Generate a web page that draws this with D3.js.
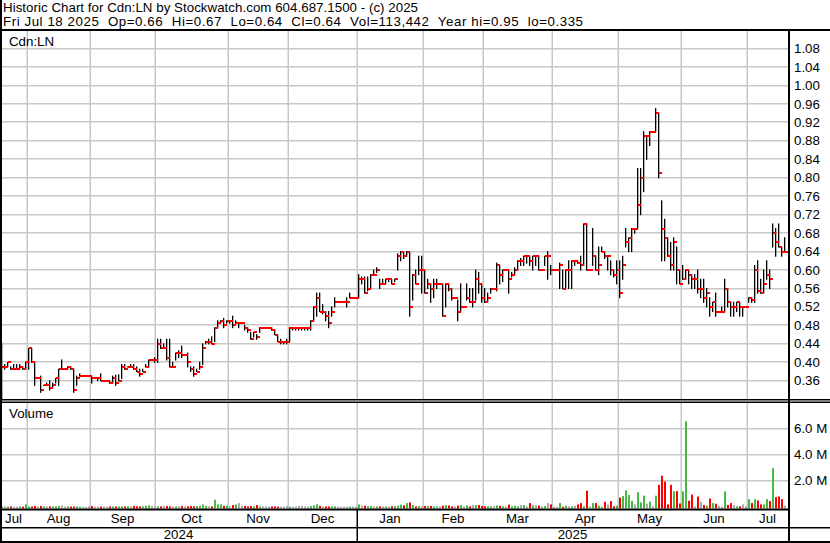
<!DOCTYPE html>
<html><head><meta charset="utf-8">
<script src="https://cdn.jsdelivr.net/npm/d3@7"></script>
<style>
html,body{margin:0;padding:0;background:#fff;}
svg{display:block;font-family:"Liberation Sans",Arial,sans-serif;}
</style></head><body>
<svg id="chart" width="830" height="543"></svg>
<script>
const titleLine1 = "Historic Chart for Cdn:LN by Stockwatch.com 604.687.1500 - (c) 2025";
const titleLine2 = "Fri Jul 18 2025  Op=0.66  Hi=0.67  Lo=0.64  Cl=0.64  Vol=113,442  Year hi=0.95  lo=0.335";
const symbolLabel = "Cdn:LN";
const volumeLabel = "Volume";

const highs = [
0.44,0.395,0.40,0.39,0.395,0.395,0.395,0.39,0.40,0.43,
0.43,0.40,0.365,0.37,0.35,0.355,0.36,0.355,0.365,0.385,
0.405,0.385,0.39,0.39,0.385,0.37,0.375,0.37,0.37,0.37,
0.37,0.365,0.365,0.375,0.36,0.36,0.36,0.37,0.372,0.373,
0.395,0.395,0.39,0.395,0.395,0.39,0.385,0.385,0.395,0.405,
0.405,0.41,0.45,0.45,0.44,0.45,0.45,0.40,0.42,0.425,
0.435,0.415,0.42,0.39,0.39,0.385,0.40,0.44,0.445,0.45,
0.455,0.475,0.49,0.49,0.495,0.49,0.49,0.50,0.49,0.485,
0.485,0.48,0.475,0.465,0.465,0.46,0.475,0.475,0.475,0.475,
0.475,0.47,0.46,0.45,0.445,0.45,0.475,0.475,0.475,0.475,
0.475,0.475,0.475,0.49,0.52,0.55,0.55,0.525,0.51,0.51,
0.52,0.54,0.53,0.53,0.53,0.54,0.55,0.54,0.54,0.59,
0.585,0.585,0.585,0.59,0.60,0.605,0.58,0.58,0.58,0.58,
0.58,0.58,0.635,0.64,0.64,0.64,0.64,0.59,0.60,0.63,
0.63,0.60,0.58,0.57,0.58,0.58,0.57,0.57,0.57,0.57,
0.56,0.54,0.535,0.57,0.52,0.57,0.56,0.56,0.60,0.595,
0.57,0.56,0.55,0.56,0.56,0.615,0.61,0.60,0.60,0.60,
0.595,0.605,0.62,0.625,0.63,0.63,0.63,0.63,0.63,0.63,
0.60,0.63,0.64,0.61,0.60,0.60,0.615,0.60,0.60,0.62,
0.62,0.62,0.62,0.63,0.70,0.70,0.60,0.69,0.63,0.65,
0.65,0.64,0.63,0.62,0.60,0.62,0.62,0.63,0.69,0.67,
0.69,0.69,0.82,0.82,0.90,0.89,0.90,0.90,0.95,0.94,
0.75,0.71,0.67,0.66,0.67,0.65,0.60,0.61,0.60,0.60,
0.59,0.59,0.60,0.58,0.58,0.56,0.54,0.53,0.55,0.51,
0.52,0.58,0.56,0.53,0.53,0.53,0.53,0.52,0.52,0.54,
0.54,0.61,0.62,0.58,0.60,0.62,0.60,0.70,0.69,0.70,
0.65,0.67];
const lows = [
0.32,0.385,0.39,0.385,0.385,0.385,0.385,0.385,0.385,0.385,
0.40,0.35,0.365,0.335,0.35,0.35,0.34,0.345,0.355,0.35,
0.385,0.385,0.385,0.385,0.335,0.35,0.37,0.37,0.37,0.37,
0.355,0.365,0.36,0.36,0.36,0.36,0.355,0.355,0.35,0.36,
0.365,0.385,0.39,0.39,0.385,0.38,0.37,0.38,0.39,0.39,
0.405,0.40,0.40,0.43,0.43,0.405,0.39,0.39,0.405,0.41,
0.41,0.415,0.39,0.38,0.37,0.38,0.385,0.395,0.44,0.44,
0.44,0.445,0.475,0.485,0.475,0.485,0.485,0.475,0.485,0.475,
0.485,0.47,0.465,0.45,0.455,0.45,0.465,0.475,0.475,0.475,
0.47,0.46,0.445,0.44,0.44,0.44,0.445,0.47,0.47,0.47,
0.47,0.47,0.47,0.47,0.49,0.50,0.51,0.505,0.49,0.475,
0.50,0.52,0.53,0.53,0.53,0.52,0.54,0.54,0.54,0.54,
0.57,0.55,0.555,0.56,0.59,0.595,0.56,0.57,0.57,0.575,
0.57,0.575,0.60,0.62,0.625,0.63,0.50,0.535,0.57,0.59,
0.55,0.55,0.56,0.53,0.54,0.56,0.57,0.50,0.52,0.555,
0.535,0.54,0.49,0.51,0.52,0.535,0.53,0.52,0.535,0.55,
0.53,0.53,0.53,0.55,0.56,0.555,0.57,0.575,0.60,0.55,
0.585,0.59,0.60,0.61,0.61,0.615,0.61,0.60,0.61,0.60,
0.60,0.61,0.58,0.59,0.60,0.60,0.56,0.56,0.56,0.56,
0.56,0.61,0.615,0.60,0.61,0.60,0.60,0.61,0.60,0.59,
0.64,0.625,0.60,0.59,0.585,0.57,0.54,0.58,0.65,0.64,
0.64,0.68,0.69,0.72,0.77,0.84,0.87,0.90,0.90,0.80,
0.62,0.62,0.63,0.60,0.60,0.57,0.57,0.58,0.58,0.57,
0.56,0.56,0.55,0.54,0.53,0.52,0.50,0.51,0.50,0.51,
0.51,0.51,0.52,0.50,0.50,0.51,0.50,0.50,0.52,0.53,
0.53,0.53,0.55,0.55,0.55,0.58,0.56,0.65,0.63,0.65,
0.63,0.64];
const closes = [
0.39,0.39,0.40,0.385,0.385,0.385,0.39,0.385,0.40,0.43,
0.40,0.365,0.365,0.34,0.35,0.35,0.345,0.35,0.365,0.385,
0.385,0.385,0.39,0.385,0.34,0.365,0.37,0.37,0.37,0.37,
0.365,0.365,0.365,0.36,0.36,0.36,0.355,0.365,0.355,0.36,
0.39,0.385,0.39,0.39,0.385,0.38,0.375,0.38,0.39,0.405,
0.405,0.405,0.44,0.43,0.43,0.41,0.39,0.39,0.42,0.42,
0.415,0.415,0.40,0.385,0.375,0.38,0.39,0.43,0.445,0.445,
0.44,0.475,0.485,0.49,0.48,0.49,0.49,0.48,0.485,0.485,
0.485,0.475,0.47,0.45,0.465,0.455,0.475,0.475,0.475,0.475,
0.47,0.46,0.445,0.445,0.445,0.445,0.475,0.475,0.475,0.475,
0.475,0.475,0.475,0.49,0.52,0.54,0.51,0.51,0.50,0.485,
0.51,0.53,0.53,0.53,0.53,0.53,0.54,0.54,0.54,0.58,
0.58,0.55,0.56,0.59,0.59,0.60,0.57,0.57,0.58,0.58,
0.57,0.58,0.63,0.64,0.63,0.64,0.52,0.59,0.57,0.60,
0.60,0.55,0.57,0.56,0.57,0.57,0.57,0.50,0.57,0.56,
0.54,0.54,0.51,0.52,0.52,0.54,0.53,0.53,0.58,0.57,
0.54,0.53,0.54,0.56,0.56,0.61,0.59,0.60,0.60,0.58,
0.59,0.60,0.62,0.62,0.63,0.63,0.62,0.63,0.63,0.60,
0.60,0.63,0.63,0.60,0.60,0.60,0.61,0.56,0.60,0.60,
0.62,0.62,0.615,0.61,0.70,0.60,0.60,0.63,0.60,0.61,
0.64,0.63,0.63,0.60,0.59,0.60,0.55,0.61,0.66,0.67,
0.69,0.69,0.74,0.80,0.89,0.89,0.90,0.90,0.94,0.81,
0.69,0.67,0.63,0.61,0.66,0.60,0.57,0.58,0.60,0.59,
0.58,0.58,0.56,0.56,0.54,0.55,0.52,0.53,0.51,0.51,
0.51,0.56,0.53,0.52,0.52,0.53,0.52,0.52,0.52,0.54,
0.535,0.60,0.555,0.55,0.57,0.59,0.58,0.68,0.66,0.65,
0.64,0.64];
const volumes = [ // millions of shares
0.05,0.03,0.03,0.04,0.03,0.03,0.04,0.03,0.20,0.04,
0.03,0.08,0.03,0.08,0.04,0.04,0.04,0.04,0.05,0.08,
0.12,0.04,0.04,0.03,0.03,0.04,0.03,0.03,0.03,0.04,
0.08,0.02,0.03,0.03,0.04,0.04,0.04,0.04,0.04,0.04,
0.05,0.04,0.05,0.04,0.08,0.05,0.04,0.04,0.08,0.12,
0.08,0.04,0.05,0.04,0.05,0.08,0.04,0.04,0.04,0.05,
0.07,0.04,0.05,0.07,0.05,0.08,0.10,0.20,0.08,0.04,
0.04,0.56,0.20,0.20,0.08,0.10,0.04,0.15,0.20,0.30,
0.10,0.08,0.04,0.07,0.05,0.15,0.04,0.04,0.04,0.04,
0.04,0.04,0.03,0.03,0.04,0.08,0.03,0.03,0.04,0.08,
0.08,0.04,0.04,0.07,0.12,0.20,0.07,0.04,0.04,0.04,
0.05,0.05,0.04,0.03,0.03,0.03,0.04,0.04,0.04,0.20,
0.10,0.10,0.05,0.08,0.05,0.05,0.05,0.04,0.04,0.04,
0.05,0.07,0.10,0.18,0.12,0.30,0.35,0.15,0.04,0.07,
0.04,0.07,0.07,0.08,0.04,0.08,0.04,0.10,0.15,0.12,
0.04,0.04,0.10,0.15,0.04,0.12,0.04,0.15,0.15,0.15,
0.08,0.05,0.05,0.05,0.08,0.12,0.08,0.04,0.04,0.18,
0.05,0.10,0.05,0.15,0.15,0.05,0.30,0.12,0.15,0.12,
0.05,0.08,0.30,0.20,0.02,0.02,0.30,0.02,0.10,0.05,
0.05,0.10,0.20,0.30,0.05,1.25,0.05,0.30,0.30,0.10,
0.02,0.40,0.20,0.45,0.05,0.10,0.72,0.85,1.28,0.92,
0.46,0.20,1.13,0.36,0.87,0.26,0.41,0.05,0.87,1.70,
2.40,1.95,0.20,1.70,1.20,1.22,0.27,1.20,6.56,0.48,
0.95,0.05,0.80,0.40,0.15,0.10,0.65,0.30,0.25,0.10,
0.02,1.20,0.15,0.30,0.15,0.05,0.05,0.20,0.05,0.60,
0.30,0.60,0.50,0.20,0.20,0.60,0.45,2.97,0.75,0.80,
0.60,0.11];

const monthLabels = ["Jul","Aug","Sep","Oct","Nov","Dec","Jan","Feb","Mar","Apr","May","Jun","Jul"];
const monthStarts = [0,9,30,52,76,96,119,141,161,184,206,227,249];
const yearLabels = ["2024","2025"];
const yearStarts = [0,119];
const priceTicks = [0.36,0.40,0.44,0.48,0.52,0.56,0.60,0.64,0.68,0.72,0.76,0.80,0.84,0.88,0.92,0.96,1.00,1.04,1.08];
const volumeTicks = [2,4,6];

const W = 830, H = 543;
const plotRight = 788;
const FS = 13.3;
const svg = d3.select("#chart");
svg.append("rect").attr("width",W).attr("height",H).attr("fill","#fff");

const n = closes.length;
const x = d3.scaleLinear().domain([0, n-1]).range([1, 1 + 3*(n-1)]);
const y = d3.scaleLinear().domain([0.32, 1.12]).range([399.2, 30.2]);
const yv = d3.scaleLinear().domain([0, 8]).range([507, 402.6]);

const gridColor = "#c8c8c8";
const monthX = monthStarts.map(i => Math.round(x(i) - 1.5));

// gridlines
const grid = svg.append("g");
priceTicks.forEach(p => {
  grid.append("rect").attr("x",0).attr("y",Math.round(y(p))-1).attr("width",plotRight).attr("height",1.5).attr("fill",gridColor);
});
volumeTicks.forEach(v => {
  grid.append("rect").attr("x",0).attr("y",Math.round(yv(v))-1).attr("width",plotRight).attr("height",1.5).attr("fill",gridColor);
});
monthX.slice(1).forEach(mx => {
  grid.append("rect").attr("x",mx-0.5).attr("y",31).attr("width",1.5).attr("height",369).attr("fill",gridColor);
  grid.append("rect").attr("x",mx-0.5).attr("y",403).attr("width",1.5).attr("height",106).attr("fill",gridColor);
});

// price bars
svg.append("clipPath").attr("id","pclip").append("rect").attr("x",0).attr("y",31).attr("width",plotRight).attr("height",368);
const pg = svg.append("g").attr("clip-path","url(#pclip)");
const idx = d3.range(n);
pg.selectAll("rect.hl").data(idx).join("rect").attr("class","hl")
  .attr("x", i => x(i)).attr("width", 1.3)
  .attr("y", i => y(highs[i]) - 0.5)
  .attr("height", i => Math.max(1, y(lows[i]) - y(highs[i]) + 1))
  .attr("fill","#000");
pg.selectAll("rect.cl").data(idx).join("rect").attr("class","cl")
  .attr("x", i => x(i) + 1).attr("width", 3)
  .attr("y", i => Math.round(y(closes[i])) - 1).attr("height", 2)
  .attr("fill","#ff0000");

// volume bars
const volColor = i => {
  if (i === 0) return "#aaaaaa";
  if (closes[i] > closes[i-1]) return "#44bb44";
  if (closes[i] < closes[i-1]) return "#ff0000";
  return "#aaaaaa";
};
svg.append("g").selectAll("rect").data(idx).join("rect")
  .attr("x", i => x(i)).attr("width", 2)
  .attr("y", i => yv(volumes[i]))
  .attr("height", i => 508.5 - yv(volumes[i]))
  .attr("fill", volColor);

// frame lines
const lines = svg.append("g").attr("fill","#000");
lines.append("rect").attr("x",0).attr("y",0).attr("width",2).attr("height",H);
lines.append("rect").attr("x",0).attr("y",29).attr("width",W).attr("height",2);
lines.append("rect").attr("x",0).attr("y",399).attr("width",W).attr("height",1.5);
lines.append("rect").attr("x",0).attr("y",401.5).attr("width",W).attr("height",1.5);
lines.append("rect").attr("x",0).attr("y",508.5).attr("width",plotRight).attr("height",2);
lines.append("rect").attr("x",0).attr("y",527).attr("width",W).attr("height",1.5);
lines.append("rect").attr("x",0).attr("y",541).attr("width",W).attr("height",2);
lines.append("rect").attr("x",plotRight).attr("y",29).attr("width",2).attr("height",H-29);
lines.append("rect").attr("x",monthX[6]-0.5).attr("y",509).attr("width",1.5).attr("height",34);

// texts
const tcol = "#000";
svg.append("text").attr("x",3).attr("y",12).attr("font-size",FS).attr("fill",tcol)
  .attr("xml:space","preserve").attr("textLength",415).attr("lengthAdjust","spacing").text(titleLine1);
svg.append("text").attr("x",3).attr("y",26).attr("font-size",FS).attr("fill",tcol)
  .attr("xml:space","preserve").attr("textLength",580).attr("lengthAdjust","spacing").text(titleLine2);
svg.append("text").attr("x",9).attr("y",46).attr("font-size",FS).attr("fill",tcol).text(symbolLabel);
svg.append("text").attr("x",9).attr("y",418).attr("font-size",FS).attr("fill",tcol).text(volumeLabel);

priceTicks.forEach(p => {
  svg.append("text").attr("x",794).attr("y",y(p)+4.5).attr("font-size",FS).attr("fill",tcol).text(p.toFixed(2));
});
volumeTicks.forEach(v => {
  svg.append("text").attr("x",794).attr("y",yv(v)+4.5).attr("font-size",FS).attr("fill",tcol).text(v.toFixed(1) + " M");
});

// month labels
const bounds = monthX.concat([plotRight]);
bounds[0] = 0;
monthLabels.forEach((m, k) => {
  svg.append("text").attr("x",(bounds[k]+bounds[k+1])/2).attr("y",523).attr("text-anchor","middle")
    .attr("font-size",FS).attr("fill",tcol).text(m);
});
const ybounds = [0, monthX[6], plotRight];
yearLabels.forEach((t, k) => {
  svg.append("text").attr("x",(ybounds[k]+ybounds[k+1])/2).attr("y",539).attr("text-anchor","middle")
    .attr("font-size",FS).attr("fill",tcol).text(t);
});
</script>
</body></html>
